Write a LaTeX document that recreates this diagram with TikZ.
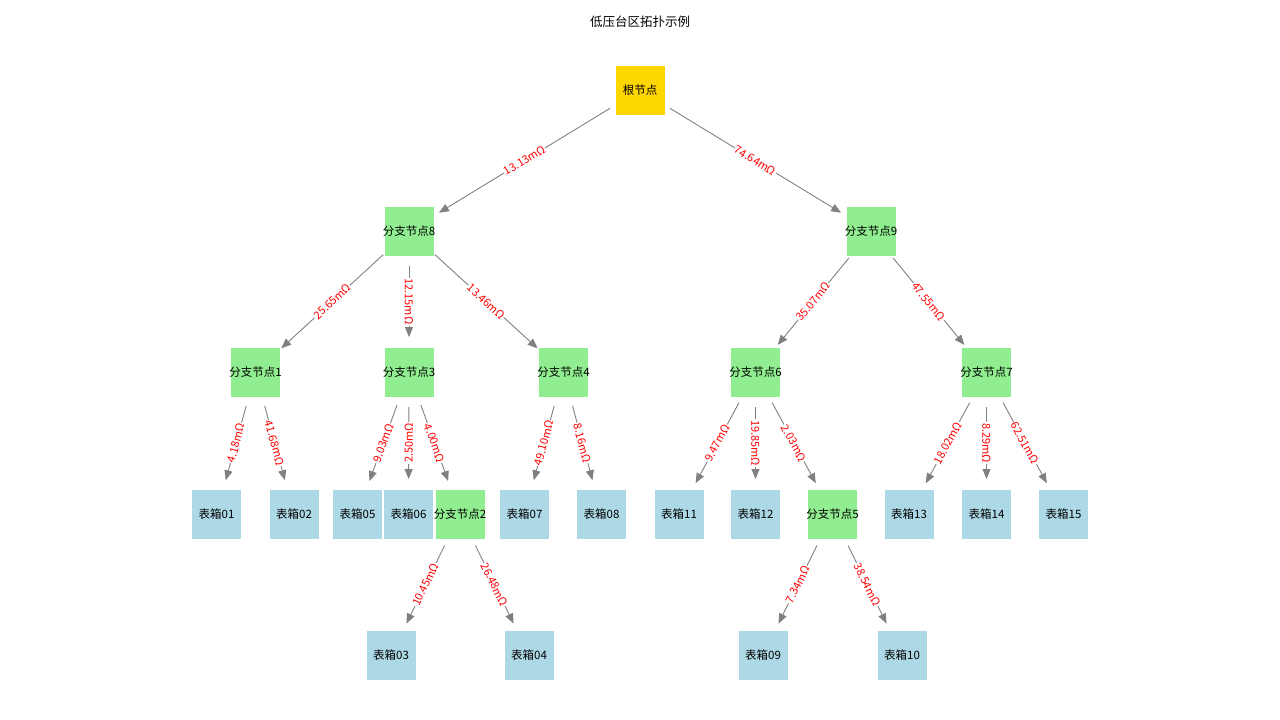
\documentclass[tikz,border=0pt]{standalone}
\usepackage{fontspec}
\setmainfont{Noto Sans CJK SC}
\usetikzlibrary{arrows.meta}
\definecolor{racine}{HTML}{FFD700}
\definecolor{branche}{HTML}{90EE90}
\definecolor{boitier}{HTML}{ADD8E6}

\begin{document}
\begin{tikzpicture}[x=1pt,y=-1pt]
\tikzstyle{lien}=[-{Stealth[length=10pt,width=8pt,inset=0pt]},gray,line width=0.9pt,shorten <=35pt,shorten >=35pt]
\tikzstyle{valeur}=[midway,sloped,fill=white,text=red,inner sep=1pt,font=\fontsize{11}{12}\selectfont]
\tikzset{noeud/.style={fill=#1,draw=white,line width=0.4pt,minimum size=50pt,inner sep=0pt,font=\fontsize{11.5}{13}\selectfont},
noeud/.default={boitier}}
\useasboundingbox (0,0) rectangle (1280,720);

\node[font=\fontsize{12.5}{14}\selectfont] (T) at (640,22) {低压台区拓扑示例};

\node[noeud=racine] (R) at (640,90) {\makebox[0pt]{根节点}};
\node[noeud=branche] (B8) at (409,231) {\makebox[0pt]{分支节点8}};
\node[noeud=branche] (B9) at (871,231) {\makebox[0pt]{分支节点9}};
\node[noeud=branche] (B1) at (255.5,372) {\makebox[0pt]{分支节点1}};
\node[noeud=branche] (B3) at (409,372) {\makebox[0pt]{分支节点3}};
\node[noeud=branche] (B4) at (563.5,372) {\makebox[0pt]{分支节点4}};
\node[noeud=branche] (B6) at (755.5,372) {\makebox[0pt]{分支节点6}};
\node[noeud=branche] (B7) at (986.5,372) {\makebox[0pt]{分支节点7}};
\node[noeud] (M01) at (216.5,514) {\makebox[0pt]{表箱01}};
\node[noeud] (M02) at (294,514) {\makebox[0pt]{表箱02}};
\node[noeud] (M05) at (357.5,514) {\makebox[0pt]{表箱05}};
\node[noeud] (M06) at (408.5,514) {\makebox[0pt]{表箱06}};
\node[noeud=branche] (B2) at (460,514) {\makebox[0pt]{分支节点2}};
\node[noeud] (M07) at (524.5,514) {\makebox[0pt]{表箱07}};
\node[noeud] (M08) at (601.5,514) {\makebox[0pt]{表箱08}};
\node[noeud] (M11) at (679,514) {\makebox[0pt]{表箱11}};
\node[noeud] (M12) at (755.5,514) {\makebox[0pt]{表箱12}};
\node[noeud=branche] (B5) at (832.5,514) {\makebox[0pt]{分支节点5}};
\node[noeud] (M13) at (909,514) {\makebox[0pt]{表箱13}};
\node[noeud] (M14) at (986.5,514) {\makebox[0pt]{表箱14}};
\node[noeud] (M15) at (1063.5,514) {\makebox[0pt]{表箱15}};
\node[noeud] (M03) at (391,655) {\makebox[0pt]{表箱03}};
\node[noeud] (M04) at (529,655) {\makebox[0pt]{表箱04}};
\node[noeud] (M09) at (763,655) {\makebox[0pt]{表箱09}};
\node[noeud] (M10) at (902,655) {\makebox[0pt]{表箱10}};

\draw[lien] (R.center) -- node[valeur] {13.13mΩ} (B8.center);
\draw[lien] (R.center) -- node[valeur] {74.64mΩ} (B9.center);
\draw[lien] (B8.center) -- node[valeur] {25.65mΩ} (B1.center);
\draw[lien] (B8.center) -- node[valeur] {12.15mΩ} (B3.center);
\draw[lien] (B8.center) -- node[valeur] {13.46mΩ} (B4.center);
\draw[lien] (B9.center) -- node[valeur] {35.07mΩ} (B6.center);
\draw[lien] (B9.center) -- node[valeur] {47.55mΩ} (B7.center);
\draw[lien] (B1.center) -- node[valeur] {4.18mΩ} (M01.center);
\draw[lien] (B1.center) -- node[valeur] {41.68mΩ} (M02.center);
\draw[lien] (B3.center) -- node[valeur] {9.03mΩ} (M05.center);
\draw[lien] (B3.center) -- node[valeur] {2.50mΩ} (M06.center);
\draw[lien] (B3.center) -- node[valeur] {4.00mΩ} (B2.center);
\draw[lien] (B4.center) -- node[valeur] {49.10mΩ} (M07.center);
\draw[lien] (B4.center) -- node[valeur] {8.16mΩ} (M08.center);
\draw[lien] (B6.center) -- node[valeur] {9.47mΩ} (M11.center);
\draw[lien] (B6.center) -- node[valeur] {19.85mΩ} (M12.center);
\draw[lien] (B6.center) -- node[valeur] {2.03mΩ} (B5.center);
\draw[lien] (B7.center) -- node[valeur] {18.02mΩ} (M13.center);
\draw[lien] (B7.center) -- node[valeur] {8.29mΩ} (M14.center);
\draw[lien] (B7.center) -- node[valeur] {62.51mΩ} (M15.center);
\draw[lien] (B2.center) -- node[valeur] {10.45mΩ} (M03.center);
\draw[lien] (B2.center) -- node[valeur] {26.48mΩ} (M04.center);
\draw[lien] (B5.center) -- node[valeur] {7.34mΩ} (M09.center);
\draw[lien] (B5.center) -- node[valeur] {38.54mΩ} (M10.center);

\end{tikzpicture}
\end{document}
